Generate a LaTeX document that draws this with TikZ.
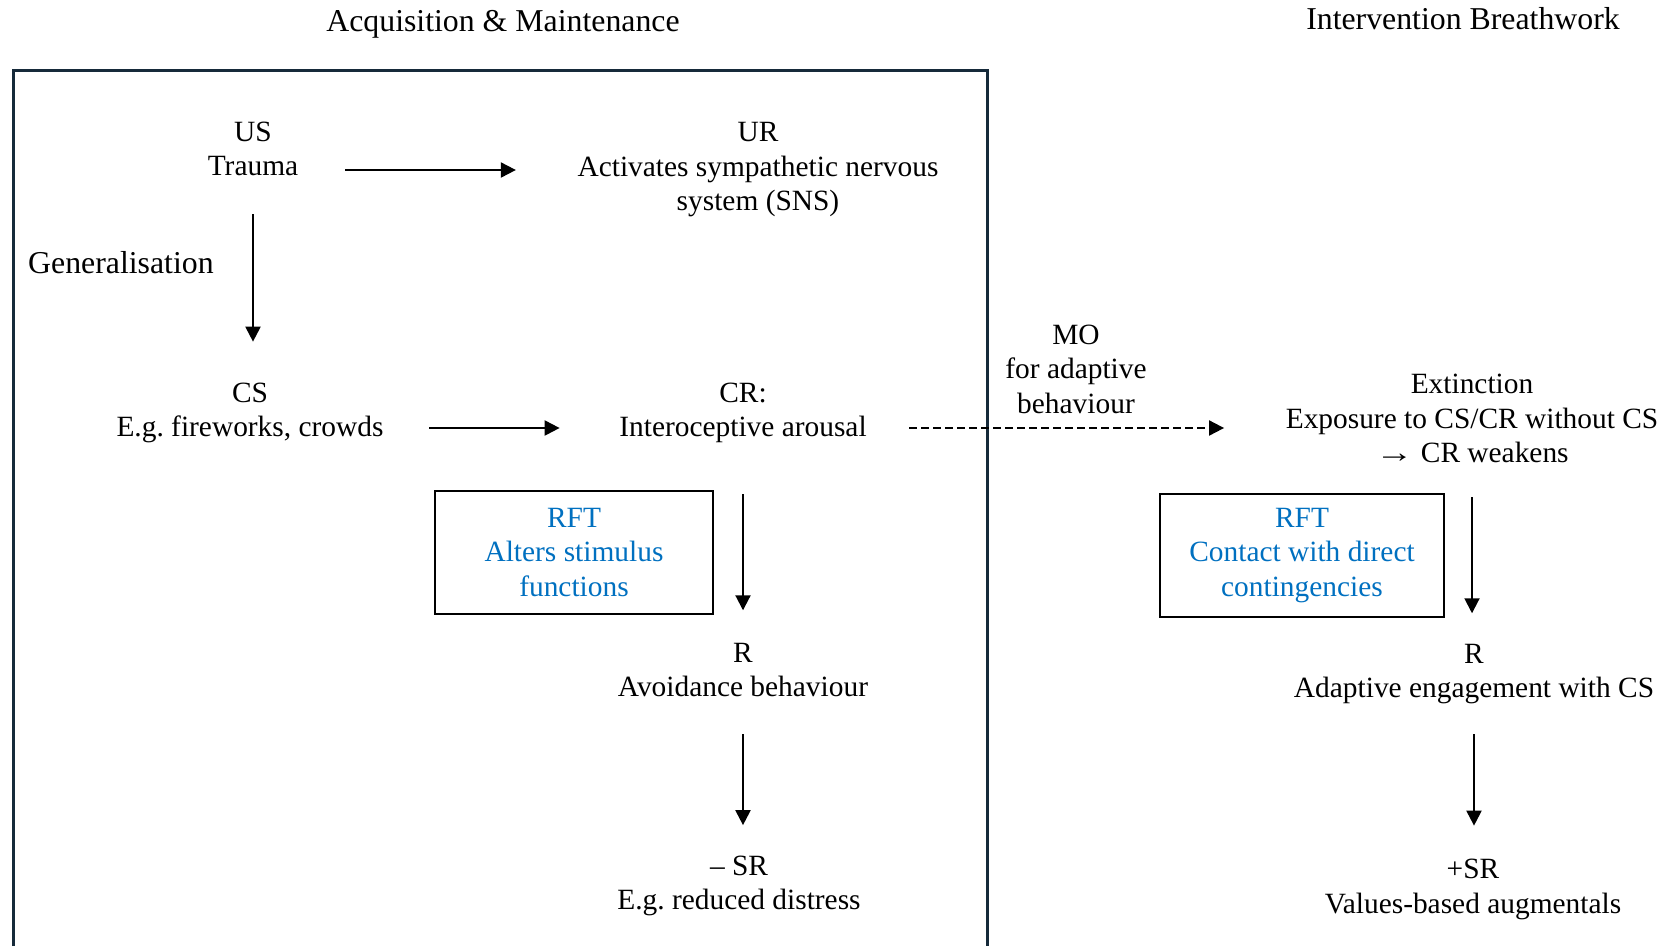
\documentclass[tikz,border=0pt]{standalone}
\usepackage{fontspec}
\setmainfont{Liberation Serif}
\usetikzlibrary{arrows.meta, positioning}
\definecolor{framenavy}{RGB}{22,42,58}
\definecolor{rftblue}{RGB}{0,112,192}
\frenchspacing

\begin{document}
\begin{tikzpicture}[x=1pt, y=-1pt,
    lbl/.style={align=center, inner sep=0pt, font=\fontsize{29.4}{34.5}\selectfont},
    head/.style={inner sep=0pt, font=\fontsize{31.8}{34.5}\selectfont},
    arr/.style={-{Triangle[length=15pt,width=15pt]}, line width=2pt},
    rftbox/.style={lbl, draw, line width=1.8pt, text=rftblue, minimum height=123pt}]
    \useasboundingbox (0,0) rectangle (1662,946);

    % Headings
    \node[head] (headL) at (503,24) {Acquisition \& Maintenance};
    \node[head] (headR) at (1463,19) {Intervention Breathwork};

    % Acquisition frame (open at the bottom)
    \draw[framenavy, line width=3pt] (13,946) -- (13,70) -- (987,70) -- (987,946);

    % Respondent chain
    \node[lbl] (us) at (253,149) {US\\Trauma};
    \node[lbl] (ur) at (758,170) {UR\\Activates sympathetic nervous\\system (SNS)};
    \node[head, anchor=west] (gen) at (28,263) {Generalisation};
    \node[lbl] (cs) at (250,413) {CS\\E.g. fireworks, crowds};
    \node[lbl] (cr) at (743,413) {CR:\\Interoceptive arousal};

    % Operant chain (left)
    \node[rftbox, minimum width=278pt] (rftL) at (574,552.5) {RFT\\Alters stimulus\\functions};
    \node[lbl] (r) at (743,670) {R\\Avoidance behaviour};
    \node[lbl] (sr) at (739,886) {– SR\\E.g. reduced distress};

    % Intervention side
    \node[lbl] (mo) at (1076,369) {MO\\for adaptive\\behaviour};
    \node[lbl] (ext) at (1472,418.5) {Extinction\\Exposure to CS/CR without CS\\\scalebox{1.3}[1]{→} CR weakens};
    \node[rftbox, minimum width=284pt] (rftR) at (1302,555.5) {RFT\\Contact with direct\\contingencies};
    \node[lbl] (rR) at (1474,674) {R\\Adaptive engagement with CS};
    \node[lbl] (srR) at (1473,889.5) {+SR\\Values-based augmentals};

    % Arrows
    \draw[arr, shorten <=47pt, shorten >=61.5pt] ([yshift=-21pt]us.east) -- ([yshift=-21pt]us.east -| ur.west);
    \draw[arr, shorten <=38pt, shorten >=41pt] (us.south) -- (us.south |- cs.north);
    \draw[arr, shorten <=45.5pt, shorten >=59.5pt] ([yshift=-15pt]cs.east) -- ([yshift=-15pt]cs.east -| cr.west);
    \draw[arr, shorten <=51pt, shorten >=32.5pt] (cr.south) -- (r.north);
    \draw[arr, shorten <=37pt, shorten >=30.5pt] (r.south) -- (r.south |- sr.north);

    \draw[arr, dash pattern=on 8pt off 4pt, shorten <=42.5pt, shorten >=61.5pt] ([yshift=-15pt]cr.east) -- ([yshift=-15pt]cr.east -| ext.west);
    \draw[arr, shorten <=34pt, shorten >=30.5pt] (ext.south) -- (ext.south |- rR.north);
    \draw[arr, shorten <=30pt, shorten >=33.5pt] (rR.south) -- (rR.south |- srR.north);
\end{tikzpicture}
\end{document}
